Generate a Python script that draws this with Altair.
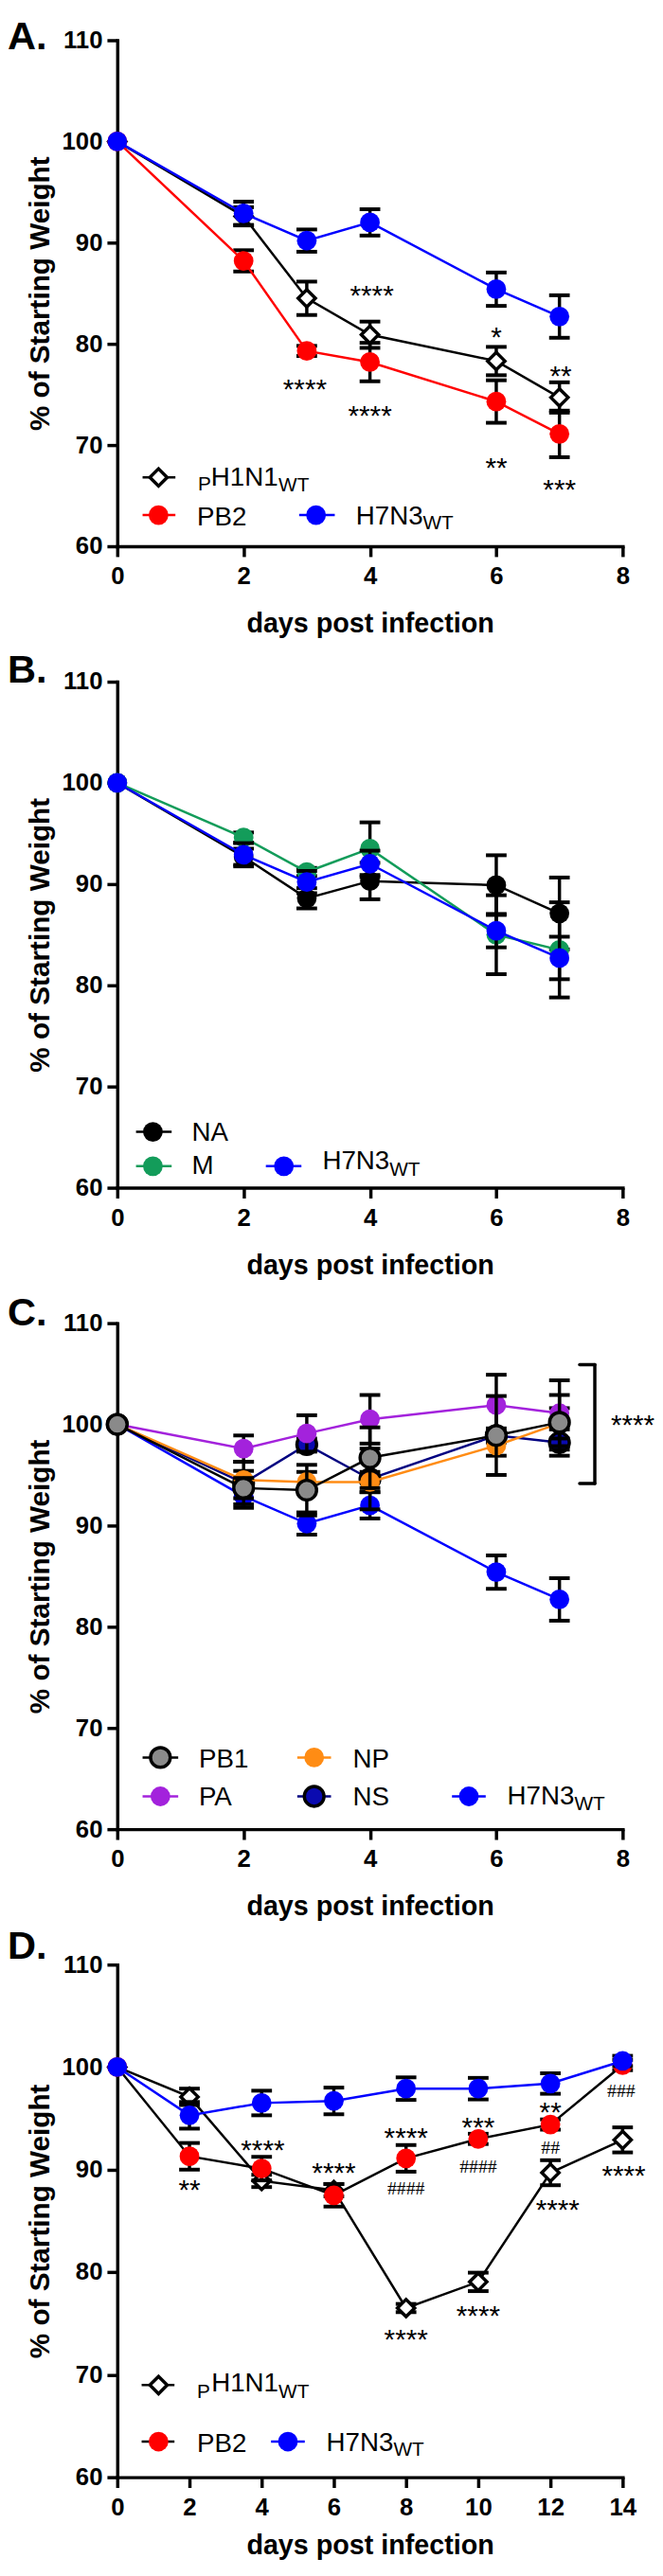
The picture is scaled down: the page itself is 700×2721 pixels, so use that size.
import altair as alt
import pandas as pd

SANS = "Liberation Sans"
SERIF = "Liberation Serif"

# ---------------- data ----------------
DAYS_7 = [0, 2, 3, 4, 6, 7]
DAYS_14 = [0, 2, 4, 6, 8, 10, 12, 14]

H7N3_7_MEAN = [100, 92.9, 90.2, 92.0, 85.4, 82.7]
H7N3_7_SEM = [0, 1.15, 1.1, 1.3, 1.65, 2.1]

A_PH1N1_MEAN = [100, 92.6, 84.5, 80.9, 78.3, 74.7]
A_PH1N1_SEM = [0, 0.9, 1.65, 1.3, 1.4, 1.5]
A_PB2_MEAN = [100, 88.2, 79.3, 78.2, 74.3, 71.1]
A_PB2_SEM = [0, 1.05, 0.5, 1.9, 2.1, 2.3]

B_NA_MEAN = [100, 92.7, 88.6, 90.3, 89.9, 87.1]
B_NA_SEM = [0, 0.8, 1.0, 1.8, 2.95, 3.55]
B_M_MEAN = [100, 94.6, 91.2, 93.5, 85.0, 83.5]
B_M_SEM = [0, 0.5, 0.4, 2.6, 3.9, 4.7]

C_PB1_MEAN = [100, 93.7, 93.5, 96.7, 98.9, 100.2]
C_PB1_SEM = [0, 1.0, 2.5, 3.0, 3.9, 2.7]
C_PA_MEAN = [100, 97.6, 99.1, 100.5, 101.9, 101.1]
C_PA_SEM = [0, 1.3, 1.8, 2.4, 3.0, 3.25]
C_NP_MEAN = [100, 94.5, 94.3, 94.3, 97.9, 100.1]
C_NP_SEM = [0, 0.9, 1.0, 1.0, 1.0, 1.5]
C_NS_MEAN = [100, 94.2, 98.0, 94.6, 98.9, 98.2]
C_NS_SEM = [0, 2.1, 0.6, 3.0, 0.7, 1.3]

D_PH1N1_MEAN = [100, 97.1, 88.9, 88.0, 76.5, 79.05, 89.7, 92.9]
D_PH1N1_SEM = [0, 0.8, 0.6, 0.6, 0.4, 0.9, 1.22, 1.22]
D_PB2_MEAN = [100, 91.3, 90.1, 87.5, 91.1, 93.0, 94.4, 100.2]
D_PB2_SEM = [0, 1.3, 1.15, 1.1, 1.3, 0.5, 0.5, 0.5]
D_H7N3_MEAN = [100, 95.3, 96.5, 96.7, 97.9, 97.9, 98.4, 100.6]
D_H7N3_SEM = [0, 1.3, 1.2, 1.3, 1.1, 1.05, 1.0, 0.5]

# significance annotations
A_STAR_DAY = [4.03, 2.97, 4.0, 6.0, 7.02, 6.0, 7.0]
A_STAR_Y = [85.3, 76.1, 73.5, 81.2, 77.4, 68.3, 66.2]
A_STAR_TXT = ["****", "****", "****", "*", "**", "**", "***"]

C_STAR_DAY = [8.16]
C_STAR_Y = [100.5]
C_STAR_TXT = ["****"]
C_BRACKET_X = [7.32, 7.56]
C_BRACKET_Y = [94.15, 105.9]

D_STAR_DAY = [2.0, 4.03, 6.0, 8.0, 8.0, 10.0, 10.0, 12.0, 12.2, 14.03]
D_STAR_Y = [88.55, 92.5, 90.26, 93.67, 73.97, 94.64, 76.34, 96.16, 86.65, 90.0]
D_STAR_TXT = ["**", "****", "****", "****", "****", "***", "****", "**", "****", "****"]
D_HASH_DAY = [8.0, 10.0, 12.0, 13.96]
D_HASH_Y = [88.18, 90.37, 92.2, 97.69]
D_HASH_TXT = ["####", "####", "##", "###"]

Y_TICKS = [60, 70, 80, 90, 100, 110]
X_TICKS_7 = [0, 2, 4, 6, 8]
X_TICKS_14 = [0, 2, 4, 6, 8, 10, 12, 14]

# ---------------- styles ----------------
RED = "#ff0000"
BLUE = "#0000ff"
GREEN = "#139c5a"
PURPLE = "#a322dc"
ORANGE = "#ff8c14"
NAVY = "#000080"
NSFILL = "#0a0ab0"
GRAY = "#8a8a8a"

CIRCLE = 441
DIAMOND = 340

ST_DIAMOND = dict(shape="diamond", size=DIAMOND, fill="white", stroke="black", strokeWidth=3.5)


def st_circle(c):
    return dict(shape="circle", size=CIRCLE, fill=c, stroke=c, strokeWidth=0)


def st_ring(c):
    return dict(shape="circle", size=CIRCLE, fill=c, stroke="black", strokeWidth=3.5)


def sym(chart, style):
    return chart.mark_point(opacity=1, fillOpacity=1, strokeOpacity=1, **style)


PLOT_W = 539
LEFT = 125  # page x of the plot's left edge; legend positions below are page x


def panel(letter, letter_y, xmax, xticks, height, series, annots, legend, bracket=None,
          xtitle_pad=23.5):
    xs = alt.Scale(domain=[0, xmax], nice=False, zero=False)
    ys = alt.Scale(domain=[60, 110], nice=False, zero=False)
    common = dict(
        grid=False, domainColor="black", domainWidth=3.5, domainCap="square",
        tickColor="black", tickWidth=3.5, tickSize=11,
        labelFont=SANS, labelFontSize=26, labelFontWeight="bold", labelColor="black",
        labelFlush=False, labelOverlap=False,
        titleFont=SANS, titleFontWeight="bold", titleColor="black",
    )
    xax = alt.Axis(values=xticks, title="days post infection", titleFontSize=29,
                   labelPadding=8, titlePadding=xtitle_pad, **common)
    yax = alt.Axis(values=Y_TICKS, title="% of Starting Weight", titleFontSize=30,
                   labelPadding=5, titlePadding=8, **common)

    def X(f):
        return alt.X(f"{f}:Q", scale=xs, axis=xax)

    def Y(f):
        return alt.Y(f"{f}:Q", scale=ys, axis=yax)

    layers = []
    for days, mean, sem, line_color, style in series:
        df = pd.DataFrame({"day": days, "mean": mean, "sem": sem})
        df["lo"] = df["mean"] - df["sem"]
        df["hi"] = df["mean"] + df["sem"]
        err = df[df["sem"] > 0]
        layers.append(alt.Chart(err).mark_rule(color="black", strokeWidth=3.5).encode(
            x=X("day"), y=Y("lo"), y2="hi:Q"))
        layers.append(alt.Chart(err).transform_fold(["lo", "hi"], as_=["end", "val"]).mark_tick(
            orient="horizontal", size=22, thickness=4, color="black", opacity=1).encode(
            x=X("day"), y=Y("val")))
        layers.append(alt.Chart(df).mark_line(color=line_color, strokeWidth=2.5).encode(
            x=X("day"), y=Y("mean")))
        layers.append(sym(alt.Chart(df), style).encode(x=X("day"), y=Y("mean")))

    if bracket is not None:
        bx, by = bracket
        layers.append(alt.Chart(pd.DataFrame({"d": [bx[1]], "a": [by[0]], "b": [by[1]]})).mark_rule(
            color="black", strokeWidth=3.5, strokeCap="round").encode(x=X("d"), y=Y("a"), y2="b:Q"))
        layers.append(alt.Chart(pd.DataFrame({"d0": [bx[0]] * 2, "d1": [bx[1]] * 2, "v": by})).mark_rule(
            color="black", strokeWidth=3.5, strokeCap="round").encode(x=X("d0"), x2="d1:Q", y=Y("v")))

    for days, ys_, txts, font, size, dy in annots:
        adf = pd.DataFrame({"day": days, "v": ys_, "t": txts})
        layers.append(alt.Chart(adf).mark_text(font=font, fontSize=size, color="black",
                                               align="center", baseline="alphabetic", dy=dy).encode(
            x=X("day"), y=Y("v"), text="t:N"))

    # custom legend (x given in page pixels, converted to plot-relative)
    for item in legend:
        one = pd.DataFrame({"k": [0]})
        layers.append(alt.Chart(one).mark_rule(color=item["line"], strokeWidth=2.5).encode(
            x=alt.value(item["lx"][0] - LEFT), x2=alt.value(item["lx"][1] - LEFT),
            y=alt.value(item["cy"])))
        layers.append(sym(alt.Chart(one), item["style"]).encode(
            x=alt.value(item["cx"] - LEFT), y=alt.value(item["cy"])))
        for txt, tx, ty, size in item["texts"]:
            layers.append(alt.Chart(pd.DataFrame({"t": [txt]})).mark_text(
                font=SANS, fontSize=size, color="black", align="left", baseline="alphabetic").encode(
                x=alt.value(tx - LEFT), y=alt.value(ty), text="t:N"))

    layers.append(alt.Chart(pd.DataFrame({"t": [letter]})).mark_text(
        font=SANS, fontSize=42, fontWeight="bold", color="black", align="left",
        baseline="alphabetic").encode(x=alt.value(-117), y=alt.value(letter_y), text="t:N"))

    return alt.layer(*layers).properties(width=PLOT_W, height=height)


STAR = (SANS, 30, 16)
HASH = (SERIF, 20, 7)

# Panel A
panel_a = panel(
    "A.", 9.4, 8, X_TICKS_7, 540,
    [
        (DAYS_7, A_PH1N1_MEAN, A_PH1N1_SEM, "black", ST_DIAMOND),
        (DAYS_7, A_PB2_MEAN, A_PB2_SEM, RED, st_circle(RED)),
        (DAYS_7, H7N3_7_MEAN, H7N3_7_SEM, BLUE, st_circle(BLUE)),
    ],
    [(A_STAR_DAY, A_STAR_Y, A_STAR_TXT) + STAR],
    [
        dict(line="black", style=ST_DIAMOND, cx=169, cy=466.5, lx=(152, 187),
             texts=[("P", 211, 480, 21), ("H1N1", 225, 475.5, 28), ("WT", 297, 481, 21)]),
        dict(line=RED, style=st_circle(RED), cx=169, cy=506.7, lx=(152, 187),
             texts=[("PB2", 210, 518, 28)]),
        dict(line=BLUE, style=st_circle(BLUE), cx=337, cy=506.7, lx=(319, 357),
             texts=[("H7N3", 379.5, 516.5, 28), ("WT", 451, 522, 21)]),
    ],
)

# Panel B
panel_b = panel(
    "B.", 1.4, 8, X_TICKS_7, 540,
    [
        (DAYS_7, B_NA_MEAN, B_NA_SEM, "black", st_circle("black")),
        (DAYS_7, B_M_MEAN, B_M_SEM, GREEN, st_circle(GREEN)),
        (DAYS_7, H7N3_7_MEAN, H7N3_7_SEM, BLUE, st_circle(BLUE)),
    ],
    [],
    [
        dict(line="black", style=st_circle("black"), cx=163, cy=480.4, lx=(145, 183),
             texts=[("NA", 204.5, 490.2, 28)]),
        dict(line=GREEN, style=st_circle(GREEN), cx=163, cy=517, lx=(145, 183),
             texts=[("M", 204.5, 525, 28)]),
        dict(line=BLUE, style=st_circle(BLUE), cx=302.7, cy=517, lx=(283.5, 321.4),
             texts=[("H7N3", 343.8, 520.5, 28), ("WT", 415.4, 526.8, 21)]),
    ],
)

# Panel C
panel_c = panel(
    "C.", 2.3, 8, X_TICKS_7, 540,
    [
        (DAYS_7, H7N3_7_MEAN, H7N3_7_SEM, BLUE, st_circle(BLUE)),
        (DAYS_7, C_NS_MEAN, C_NS_SEM, NAVY, st_ring(NSFILL)),
        (DAYS_7, C_NP_MEAN, C_NP_SEM, ORANGE, st_circle(ORANGE)),
        (DAYS_7, C_PA_MEAN, C_PA_SEM, PURPLE, st_circle(PURPLE)),
        (DAYS_7, C_PB1_MEAN, C_PB1_SEM, "black", st_ring(GRAY)),
    ],
    [(C_STAR_DAY, C_STAR_Y, C_STAR_TXT) + STAR],
    [
        dict(line="black", style=st_ring(GRAY), cx=171, cy=463.5, lx=(152, 190),
             texts=[("PB1", 212, 474.5, 28)]),
        dict(line=ORANGE, style=st_circle(ORANGE), cx=335, cy=463.5, lx=(317, 353),
             texts=[("NP", 376.3, 474.5, 28)]),
        dict(line=PURPLE, style=st_circle(PURPLE), cx=171, cy=505, lx=(152, 190),
             texts=[("PA", 212, 515, 28)]),
        dict(line=NAVY, style=st_ring(NSFILL), cx=335, cy=505, lx=(317, 353),
             texts=[("NS", 376.3, 515, 28)]),
        dict(line=BLUE, style=st_circle(BLUE), cx=500, cy=505, lx=(482, 518),
             texts=[("H7N3", 541, 514, 28), ("WT", 612.6, 520, 21)]),
    ],
    bracket=(C_BRACKET_X, C_BRACKET_Y),
)

# Panel D
panel_d = panel(
    "D.", -6.4, 14, X_TICKS_14, 547,
    [
        (DAYS_14, D_PH1N1_MEAN, D_PH1N1_SEM, "black", ST_DIAMOND),
        (DAYS_14, D_PB2_MEAN, D_PB2_SEM, "black", st_circle(RED)),
        (DAYS_14, D_H7N3_MEAN, D_H7N3_SEM, BLUE, st_circle(BLUE)),
    ],
    [(D_STAR_DAY, D_STAR_Y, D_STAR_TXT) + STAR, (D_HASH_DAY, D_HASH_Y, D_HASH_TXT) + HASH],
    [
        dict(line="black", style=ST_DIAMOND, cx=169, cy=448.7, lx=(151, 186),
             texts=[("P", 210, 462, 21), ("H1N1", 225.4, 455.4, 28), ("WT", 297, 462, 21)]),
        dict(line="black", style=st_circle(RED), cx=169, cy=509, lx=(151, 186),
             texts=[("PB2", 210, 520, 28)]),
        dict(line=BLUE, style=st_circle(BLUE), cx=307, cy=509, lx=(289, 325),
             texts=[("H7N3", 348, 519, 28), ("WT", 419.6, 524.6, 21)]),
    ],
    xtitle_pad=14,
)

chart = alt.vconcat(panel_a, panel_b, panel_c, panel_d, spacing=144.5, bounds="flush").configure_view(
    strokeWidth=0).properties(padding={"left": 0, "top": -4, "right": 0, "bottom": -6})

chart.save("out.html", embed_options={"renderer": "svg", "actions": False})
